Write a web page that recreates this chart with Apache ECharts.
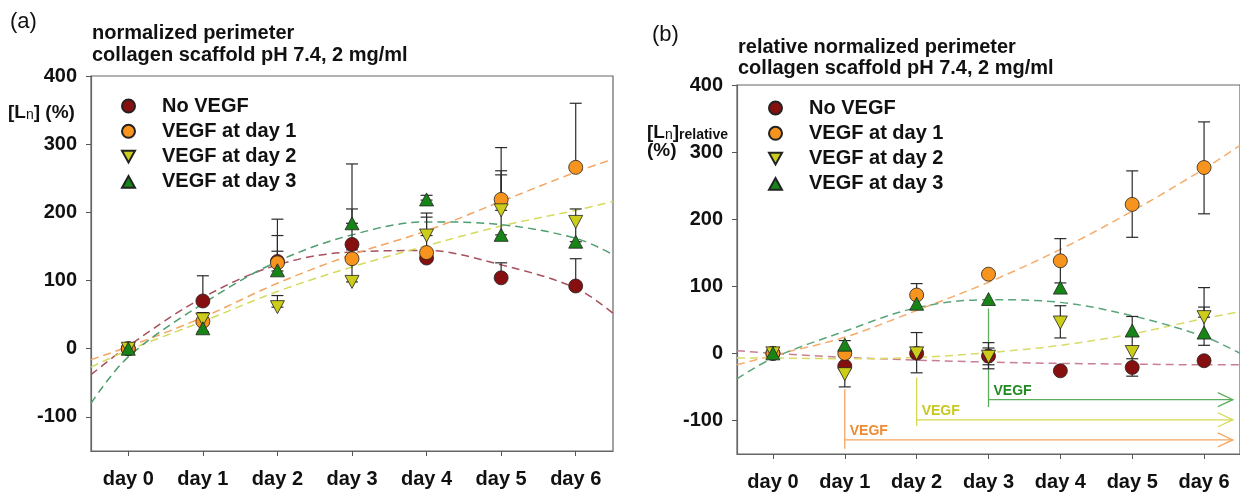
<!DOCTYPE html>
<html>
<head>
<meta charset="utf-8">
<script src="https://cdn.jsdelivr.net/npm/echarts@6/dist/echarts.min.js"></script>
<style>
  html, body { margin: 0; padding: 0; background: #fff; }
  #chart { width: 1240px; height: 492px; }
</style>
</head>
<body>
<div id="chart"></div>
<script>
// x positions (days) and tick labels
var days = [0, 1, 2, 3, 4, 5, 6];
var dayTicks = [0, 1, 2, 3, 4, 5, 6];
var yTicks = [-100, 0, 100, 200, 300, 400];
var seriesNames = ['No VEGF', 'VEGF at day 1', 'VEGF at day 2', 'VEGF at day 3'];

// panel (a) normalized perimeter, mean values
var aNoVegf = [0, 70, 128, 153, 133, 104, 92];
var aDay1 = [0, 40, 126, 132, 141, 219, 266];
var aDay2 = [0, 43, 61, 98, 166, 203, 186];
var aDay3 = [0, 30, 115, 184, 219, 167, 157];

// panel (b) relative normalized perimeter, mean values
var bNoVegf = [0, -19, 0, -4, -26, -21, -11];
var bDay1 = [0, 0, 87, 118, 138, 222, 277];
var bDay2 = [0, -31, 0, -5, 46, 2, 54];
var bDay3 = [0, 13, 74, 81, 98, 34, 31];

// fitted trend curves at these days
var fitDays = [-0.5, 0, 1, 2, 3, 4, 5, 6, 6.5];
var aFitNoVegf = [-38, 4, 75, 123, 142, 144, 123, 89, 52];
var aFitDay1 = [-16, 3, 46, 96, 138, 173, 216, 259, 278];
var aFitDay2 = [-27, -2, 40, 84, 120, 151, 180, 203, 216];
var aFitDay3 = [-80, -12, 66, 128, 167, 186, 182, 162, 138];
var bFitNoVegf = [4, 0, -6, -10, -13, -15, -16, -17, -17];
var bFitDay1 = [-17, -3, 24, 64, 106, 155, 212, 275, 310];
var bFitDay2 = [-7, -7, -8, -6, 1, 12, 29, 52, 62];
var bFitDay3 = [-38, -7, 33, 68, 80, 76, 56, 25, 0];

// error bars: [day, low, high]
var aErr = [[1, 70, 107], [1, 25, 53], [2, 126, 190], [2, 128, 166], [2, 114, 143], [2, 61, 78],
  [3, 153, 271], [3, 184, 205], [3, 98, 145], [4, 218, 225], [4, 166, 199], [4, 140, 193],
  [5, 218, 295], [5, 203, 261], [5, 167, 255], [5, 104, 126], [6, 266, 360], [6, 157, 205], [6, 92, 132]];
var bErr = [[1, -50, 19], [2, -29, 31], [2, 87, 104], [3, -23, 16], [3, -17, 8], [4, 105, 171], [4, 23, 71],
  [5, 173, 272], [5, 9, 55], [5, -34, -8], [6, 208, 345], [6, 12, 98], [6, 54, 69]];

// VEGF addition markers in (b): [start day, line top, line bottom, arrow level, arrow end]
var vegfMarks = [[1, -53, -142, -129, 6.4], [2, -36, -108, -99, 6.4], [3, 67, -80, -69, 6.4]];

var FONT = 'Liberation Sans, Arial, sans-serif';
var markerColors = ['#861010', '#f7941d', '#cccc1a', '#178417'];
var fitColors = ['#a8505c', '#f4a460', '#d4da5c', '#4e9e6e'];
var fitColorsB = ['#c97f92', '#f5ac6c', '#d8dc66', '#5aa67a'];
var vegfLineColors = ['#f6a660', '#d6d850', '#5cae5c'];
var vegfTextColors = ['#f08a30', '#c8c820', '#238a23'];
var symbols = ['circle', 'circle', 'path://M0,0 L10,0 L5,9 Z', 'path://M5,0 L10,9 L0,9 Z'];
var symbolSizes = [14, 14, [14, 13], [14, 13]];

function pairs(xs, ys) {
  return xs.map(function (x, i) { return [x, ys[i]]; });
}

function errItem(params, api) {
  var x = api.value(0);
  var p1 = api.coord([x, api.value(1)]);
  var p2 = api.coord([x, api.value(2)]);
  var w = 6;
  var st = { stroke: '#2a2a2a', lineWidth: 1.2 };
  return {
    type: 'group',
    children: [
      { type: 'line', shape: { x1: p1[0], y1: p1[1], x2: p2[0], y2: p2[1] }, style: st },
      { type: 'line', shape: { x1: p1[0] - w, y1: p1[1], x2: p1[0] + w, y2: p1[1] }, style: st },
      { type: 'line', shape: { x1: p2[0] - w, y1: p2[1], x2: p2[0] + w, y2: p2[1] }, style: st }
    ]
  };
}

function vegfItem(params, api) {
  var i = params.dataIndex;
  var x = api.value(0);
  var top = api.coord([x, api.value(1)]);
  var bot = api.coord([x, api.value(2)]);
  var lv = api.coord([x, api.value(3)]);
  var end = api.coord([api.value(4), api.value(3)]);
  var st = { stroke: vegfLineColors[i], lineWidth: 1.3 };
  return {
    type: 'group',
    children: [
      { type: 'line', shape: { x1: top[0], y1: top[1], x2: bot[0], y2: bot[1] }, style: st },
      { type: 'line', shape: { x1: lv[0], y1: lv[1], x2: end[0], y2: end[1] }, style: st },
      { type: 'polyline', shape: { points: [[end[0] - 15, end[1] - 7], [end[0], end[1]], [end[0] - 15, end[1] + 7]] },
        style: { stroke: vegfLineColors[i], lineWidth: 1.3, fill: null } },
      { type: 'text', x: lv[0] + 5, y: lv[1] - 2,
        style: { text: 'VEGF', fill: vegfTextColors[i], font: 'bold 14px ' + FONT, verticalAlign: 'bottom', align: 'left' } }
    ]
  };
}

var myChart = echarts.init(document.getElementById('chart'));

function xAxisFor(gridIndex) {
  return {
    type: 'value', gridIndex: gridIndex, min: -0.5, max: 6.5,
    splitLine: { show: false },
    axisLine: { onZero: false, lineStyle: { color: '#666', width: 1.2 } },
    axisTick: { customValues: dayTicks, length: 5, lineStyle: { color: '#555' } },
    axisLabel: { customValues: dayTicks, margin: 18, formatter: function (v) { return 'day ' + v; },
      fontFamily: FONT, fontSize: 20, fontWeight: 'bold', color: '#111' }
  };
}
function yAxisFor(gridIndex) {
  return {
    type: 'value', gridIndex: gridIndex, min: -150, max: 400,
    splitLine: { show: false },
    axisLine: { onZero: false, lineStyle: { color: '#666', width: 1.2 } },
    axisTick: { customValues: yTicks, length: 5, lineStyle: { color: '#555' } },
    axisLabel: { customValues: yTicks, margin: 14,
      fontFamily: FONT, fontSize: 20, fontWeight: 'bold', color: '#111' }
  };
}

var series = [];
var panels = [
  { means: [aNoVegf, aDay1, aDay2, aDay3], fits: [aFitNoVegf, aFitDay1, aFitDay2, aFitDay3], err: aErr, fitCol: fitColors },
  { means: [bNoVegf, bDay1, bDay2, bDay3], fits: [bFitNoVegf, bFitDay1, bFitDay2, bFitDay3], err: bErr, fitCol: fitColorsB }
];
panels.forEach(function (p, g) {
  p.fits.forEach(function (f, k) {
    series.push({
      type: 'line', xAxisIndex: g, yAxisIndex: g, data: pairs(fitDays, f),
      smooth: 0.35, showSymbol: false, silent: true, z: 2,
      lineStyle: { color: p.fitCol[k], width: 1.5, type: [8, 5] }
    });
  });
  series.push({
    type: 'custom', xAxisIndex: g, yAxisIndex: g, data: p.err, renderItem: errItem,
    encode: { x: 0, y: [1, 2] }, silent: true, z: 3
  });
  p.means.forEach(function (m, k) {
    series.push({
      name: seriesNames[k], type: 'scatter', xAxisIndex: g, yAxisIndex: g, data: pairs(days, m),
      symbol: symbols[k], symbolSize: symbolSizes[k], z: 4,
      itemStyle: { color: markerColors[k], borderColor: '#222', borderWidth: 0.8, opacity: 1 }
    });
  });
});
series.push({
  type: 'custom', xAxisIndex: 1, yAxisIndex: 1, data: vegfMarks, renderItem: vegfItem,
  encode: { x: [0, 4], y: [1, 2] }, silent: true, z: 2
});

function legendFor(left, top) {
  return {
    orient: 'vertical', left: left, top: top, padding: 0,
    itemWidth: 13, itemHeight: 13, itemGap: 3.3, selectedMode: false,
    data: seriesNames,
    formatter: function (n) { return '{g| }' + n; },
    textStyle: { fontFamily: FONT, fontSize: 20, fontWeight: 'bold', color: '#111', lineHeight: 22,
      rich: { g: { width: 22 } } }
  };
}

function txt(x, y, text, font) {
  return { type: 'text', x: x, y: y, style: { text: text, font: font, fill: '#111', verticalAlign: 'middle' } };
}

var option = {
  animation: false,
  backgroundColor: '#fff',
  grid: [
    { left: 91, top: 76, width: 522, height: 375, show: true, borderColor: '#666', borderWidth: 1.2 },
    { left: 737, top: 85, width: 509, height: 369, show: true, borderColor: '#666', borderWidth: 1.2 }
  ],
  xAxis: [xAxisFor(0), xAxisFor(1)],
  yAxis: [yAxisFor(0), yAxisFor(1)],
  legend: [legendFor(121, 95), legendFor(768, 97)],
  graphic: [
    txt(10, 22, '(a)', '22px ' + FONT),
    txt(652, 35, '(b)', '22px ' + FONT),
    txt(92, 33, 'normalized perimeter', 'bold 20px ' + FONT),
    txt(92, 55, 'collagen scaffold pH 7.4, 2 mg/ml', 'bold 20px ' + FONT),
    txt(738, 47, 'relative normalized perimeter', 'bold 20px ' + FONT),
    txt(738, 68, 'collagen scaffold pH 7.4, 2 mg/ml', 'bold 20px ' + FONT),
    { type: 'text', x: 8, y: 113, style: {
      text: '{a|[L}{s|n}{a|] (%)}', verticalAlign: 'middle',
      rich: { a: { font: 'bold 19px ' + FONT, fill: '#111' }, s: { font: '14px ' + FONT, fill: '#111', padding: [4, 0, 0, 0] } } } },
    { type: 'text', x: 647, y: 133, style: {
      text: '{a|[L}{s|n}{a|]}{r|relative}', verticalAlign: 'middle',
      rich: { a: { font: 'bold 19px ' + FONT, fill: '#111' }, s: { font: '14px ' + FONT, fill: '#111', padding: [4, 0, 0, 0] },
        r: { font: 'bold 14px ' + FONT, fill: '#111', padding: [4, 0, 0, 0] } } } },
    txt(647, 151, '(%)', 'bold 19px ' + FONT)
  ],
  series: series
};
myChart.setOption(option);
window.addEventListener('resize', function () {
  myChart.resize();
});
</script>
</body>
</html>
